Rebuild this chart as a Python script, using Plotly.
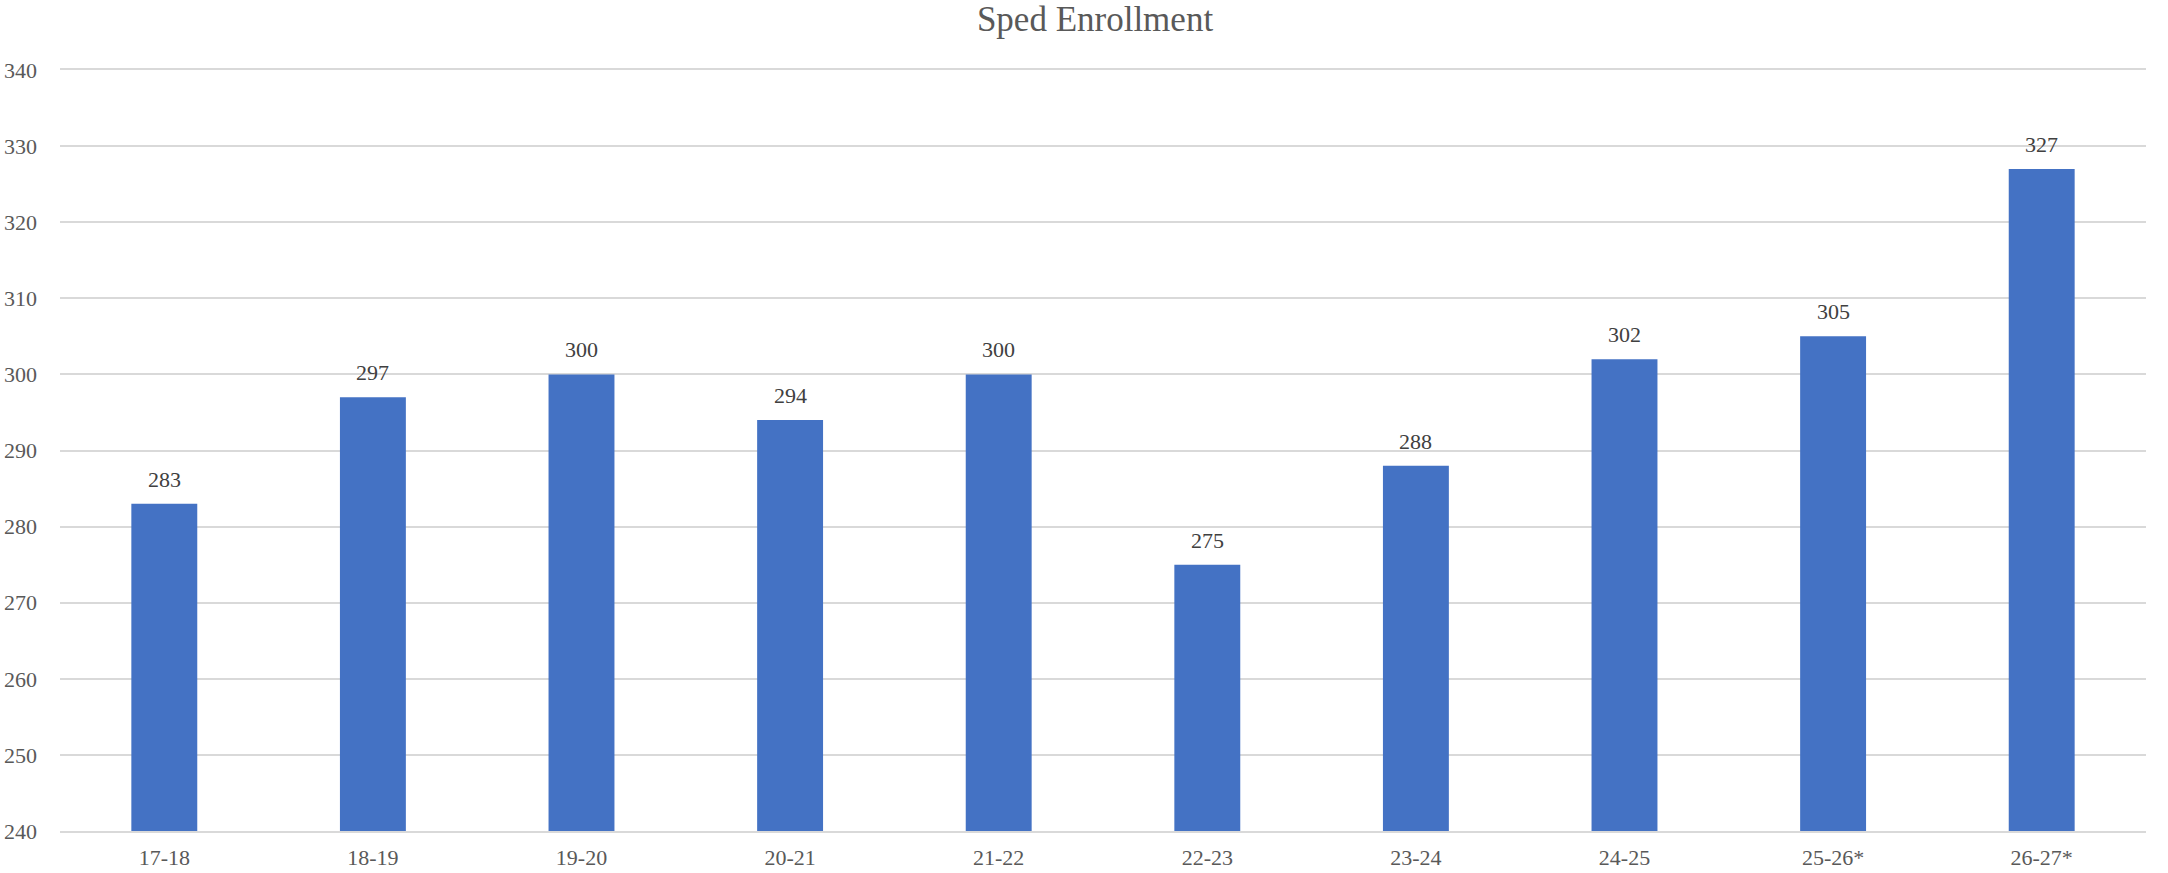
import plotly.graph_objects as go

categories = ["17-18", "18-19", "19-20", "20-21", "21-22", "22-23", "23-24", "24-25", "25-26*", "26-27*"]
values = [283, 297, 300, 294, 300, 275, 288, 302, 305, 327]
y_ticks = [240, 250, 260, 270, 280, 290, 300, 310, 320, 330, 340]

FONT = "Liberation Serif"

fig = go.Figure()
fig.add_trace(go.Bar(
    x=categories,
    y=values,
    base=0,
    marker=dict(color="#4472C4", line=dict(width=0)),
    hoverinfo="x+y",
))

for c, v in zip(categories, values):
    fig.add_annotation(x=c, y=v, text=str(v), showarrow=False,
                       yanchor="bottom", yshift=10,
                       font=dict(family=FONT, size=22, color="#404040"))

fig.update_layout(
    width=2168, height=873,
    margin=dict(l=60, r=22, t=70, b=42, autoexpand=False),
    paper_bgcolor="white", plot_bgcolor="white",
    bargap=0.684,
    showlegend=False,
    title=dict(text="Sped Enrollment", xref="container", x=1095 / 2168, xanchor="center",
               y=1 - 19 / 873, yanchor="middle",
               font=dict(family=FONT, size=35, color="#595959")),
    xaxis=dict(
        type="category", automargin=False,
        showgrid=False, zeroline=False,
        showline=True, mirror=True, linecolor="#D9D9D9", linewidth=2,
        ticks="", ticklabelstandoff=6,
        tickfont=dict(family=FONT, size=22, color="#595959"),
    ),
    yaxis=dict(
        range=[240, 340], automargin=False,
        tickvals=y_ticks,
        showgrid=True, gridcolor="#D9D9D9", gridwidth=2,
        zeroline=False, showline=False,
        ticks="", ticklabelstandoff=22,
        tickfont=dict(family=FONT, size=22, color="#595959"),
    ),
)

fig.write_html("out.html")
